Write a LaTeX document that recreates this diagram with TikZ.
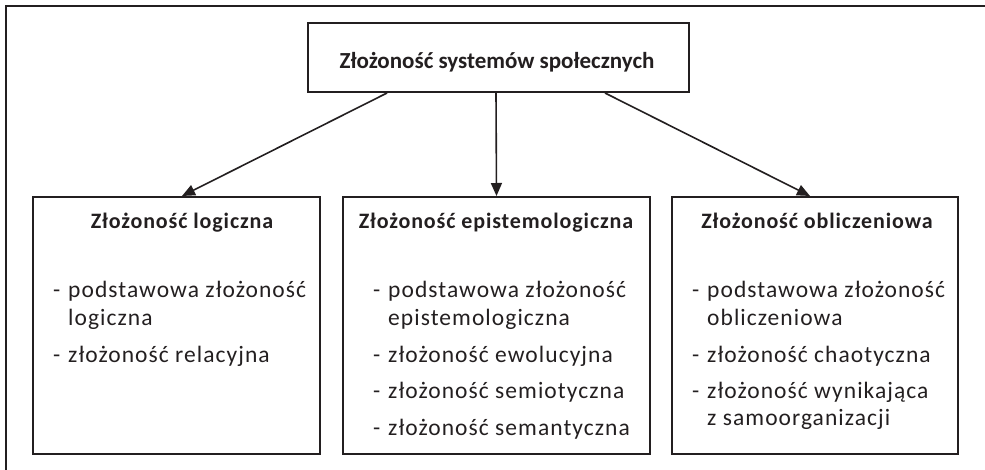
\documentclass[tikz,border=0pt]{standalone}
\usepackage{fontspec}
\setmainfont{Carlito}
\newfontfamily\headfont[LetterSpace=4]{Carlito}
\newfontfamily\bodyfont[LetterSpace=4.5]{Carlito}
\usetikzlibrary{arrows.meta}
\definecolor{ink}{HTML}{231F20}
\begin{document}
\begin{tikzpicture}[x=1pt,y=1pt,
  box/.style={draw=ink, line width=2pt, rectangle, inner sep=0pt},
  toptxt/.style={font=\fontsize{23}{27}\selectfont\bfseries, text=ink, inner sep=0pt, anchor=base},
  headtxt/.style={font=\headfont\fontsize{22}{26}\selectfont\bfseries, text=ink, inner sep=0pt, anchor=base},
  bodytxt/.style={font=\bodyfont\fontsize{23.5}{27}\selectfont, text=ink, inner sep=0pt, anchor=base west},
  conn/.style={draw=ink, line width=1.6pt, -{Triangle[length=13pt,width=11pt]}}]
\useasboundingbox (0,0) rectangle (985,-470);
% outer frame (only its left and top sides fall inside the page)
\draw[ink, line width=2.5pt] (6,-475) -- (6,-6) -- (990,-6);

% boxes
\node[box, minimum width=381pt, minimum height=69pt] (top) at (498.5,-57.5) {};
\node[box, minimum width=287pt, minimum height=257pt] (lbox) at (176.5,-325.5) {};
\node[box, minimum width=307pt, minimum height=257pt] (mbox) at (496.5,-325.5) {};
\node[box, minimum width=286pt, minimum height=257pt] (rbox) at (815,-325.5) {};

% headings
\node[toptxt] (ttop) at (497,-69) {Złożoność systemów społecznych};
\node[headtxt] (tl) at (182,-229) {Złożoność logiczna};
\node[headtxt] (tm) at (496,-229) {Złożoność epistemologiczna};
\node[headtxt] (tr) at (817,-229) {Złożoność obliczeniowa};

% connectors
\draw[conn] ([xshift=-111.5pt]top.south) -- ([xshift=5.5pt]lbox.north);
\draw[conn] ([xshift=-2.5pt]top.south) -- (mbox.north);
\draw[conn] ([xshift=106.5pt]top.south) -- ([xshift=-5pt]rbox.north);

% list in the left box
\node[bodytxt] (ld1) at (53,-298) {-};
\node[bodytxt] (la1) at (68,-298) {podstawowa złożoność};
\node[bodytxt] (la2) at (68,-325) {logiczna};
\node[bodytxt] (ld2) at (53,-362) {-};
\node[bodytxt] (lb1) at (68,-362) {złożoność relacyjna};

% list in the middle box
\node[bodytxt] (md1) at (373,-298) {-};
\node[bodytxt] (ma1) at (388,-298) {podstawowa złożoność};
\node[bodytxt] (ma2) at (388,-325) {epistemologiczna};
\node[bodytxt] (md2) at (373,-362) {-};
\node[bodytxt] (mb1) at (388,-362) {złożoność ewolucyjna};
\node[bodytxt] (md3) at (373,-398) {-};
\node[bodytxt] (mc1) at (388,-398) {złożoność semiotyczna};
\node[bodytxt] (md4) at (373,-435) {-};
\node[bodytxt] (me1) at (388,-435) {złożoność semantyczna};

% list in the right box
\node[bodytxt] (rd1) at (692,-298) {-};
\node[bodytxt] (ra1) at (707,-298) {podstawowa złożoność};
\node[bodytxt] (ra2) at (707,-325) {obliczeniowa};
\node[bodytxt] (rd2) at (692,-362) {-};
\node[bodytxt] (rb1) at (707,-362) {złożoność chaotyczna};
\node[bodytxt] (rd3) at (692,-398) {-};
\node[bodytxt] (rc1) at (707,-398) {złożoność wynikająca};
\node[bodytxt] (rc2) at (707,-425) {z samoorganizacji};
\end{tikzpicture}
\end{document}
